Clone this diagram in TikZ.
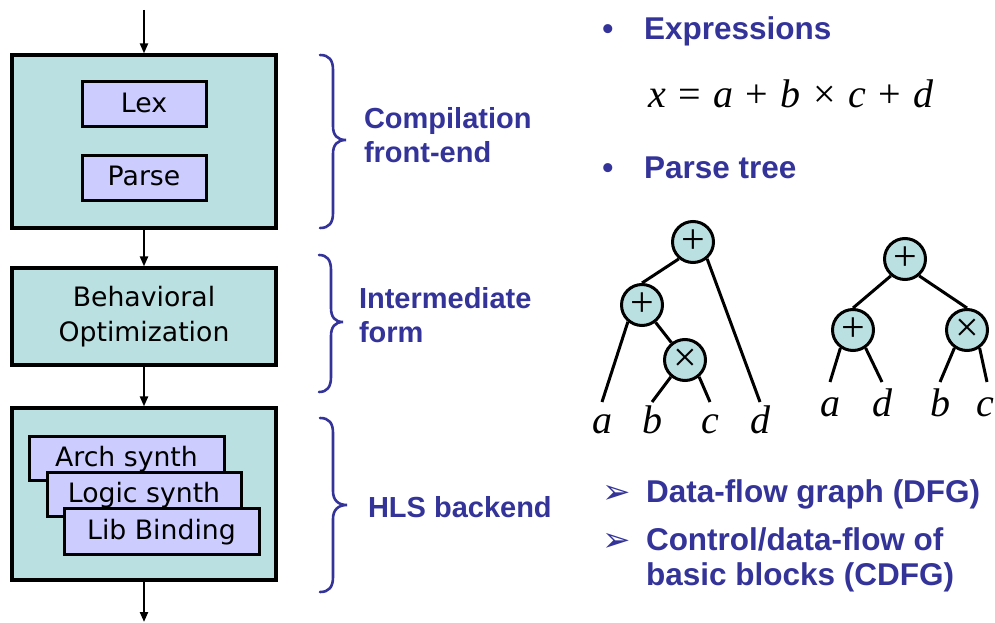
\documentclass[tikz,border=0pt]{standalone}
\usepackage{fontspec}
\setmainfont{DejaVu Sans}
\newfontfamily\headfont{Liberation Sans}
\newfontfamily\serffont{Liberation Serif}
\usetikzlibrary{arrows.meta}

\definecolor{stageteal}{RGB}{186,224,225}
\definecolor{tasklilac}{RGB}{204,204,255}
\definecolor{slideblue}{RGB}{51,51,153}

\tikzset{every picture/.style={line width=2pt}}
\tikzset{
  stage/.style={draw, line width=3.2pt, fill=stageteal, minimum width=264pt, inner sep=0pt,
    align=center, font=\fontsize{26.7}{35}\selectfont},
  task/.style={draw, line width=3pt, fill=tasklilac, inner sep=0pt, text height=19pt, text depth=3pt,
    font=\fontsize{26.7}{32}\selectfont},
  flow/.style={line width=2.2pt, -{Triangle[length=10pt,width=8pt]}},
  curly/.style={draw=slideblue, line width=2.6pt, line cap=round},
  tag/.style={text=slideblue, anchor=base west, inner sep=0pt, align=left,
    font=\headfont\bfseries\fontsize{29}{34}\selectfont},
  heading/.style={text=slideblue, anchor=base west, inner sep=0pt, align=left,
    font=\headfont\bfseries\fontsize{31.5}{35}\selectfont},
  pointer/.style={text=slideblue, anchor=base west, inner sep=0pt, font=\fontsize{34}{34}\selectfont},
  op/.style={circle, draw, line width=3pt, fill=stageteal, minimum size=41pt, inner sep=0pt,
    font=\serffont\fontsize{42}{42}\selectfont},
  leaf/.style={anchor=base, inner sep=0pt, font=\serffont\itshape\fontsize{40}{40}\selectfont},
  branch/.style={line width=3pt},
}

\begin{document}
\begin{tikzpicture}[x=1pt,y=1pt,yscale=-1,xscale=1]
	\useasboundingbox (0,0) rectangle (995,623);

	% compiler flow
	\node[stage, minimum height=173pt] (fe) at (144,141.5) {};
	\node[task, minimum width=124pt, minimum height=45pt] (lex) at (144,104.5) {Lex};
	\node[task, minimum width=124pt, minimum height=45pt] (parse) at (144,177.5) {Parse};
	\node[stage, minimum height=97pt] (bo) at (144,316.5) {Behavioral\\Optimization};
	\node[stage, minimum height=172pt] (be) at (144,494) {};
	\node[task, minimum width=195pt, minimum height=44pt] (arch) at (126.5,458) {Arch synth};
	\node[task, minimum width=194pt, minimum height=44pt] (logic) at (144,494) {Logic synth};
	\node[task, minimum width=195pt, minimum height=46pt] (lib) at (161.5,531) {Lib Binding};

	\coordinate (src) at (144,10);
	\coordinate (sink) at (144,622);
	\draw[flow] (src) -- (fe);
	\draw[flow] (fe) -- (bo);
	\draw[flow] (bo) -- (be);
	\draw[flow] (be) -- (sink);

	% braces
	\draw[curly] (320,55) .. controls (329,55) and (333,60) .. (333,70) -- (333,126) .. controls (333,135) and (337,140) .. (346,140) .. controls (337,140) and (333,145) .. (333,154) -- (333,213) .. controls (333,223) and (329,228) .. (320,228);
	\draw[curly] (319,255) .. controls (327,255) and (331,260) .. (331,270) -- (331,308) .. controls (331,317) and (335,322) .. (343,322) .. controls (335,322) and (331,327) .. (331,336) -- (331,377) .. controls (331,387) and (327,392) .. (319,392);
	\draw[curly] (320,418) .. controls (329,418) and (333,423) .. (333,433) -- (333,491) .. controls (333,500) and (338,505) .. (347,505) .. controls (338,505) and (333,510) .. (333,519) -- (333,577) .. controls (333,587) and (329,592) .. (320,592);

	\node[tag] (t1) at (363,162) {Compilation\\front-end};
	\node[tag] (t2) at (358,342) {Intermediate\\form};
	\node[tag] (t3) at (367,517) {HLS backend};

	% right column
	\node[heading, anchor=base] (b1) at (608,40) {•};
	\node[heading] (h1) at (643,40) {Expressions};
	\node[anchor=base west, inner sep=0pt, font={\serffont\fontsize{40}{40}\selectfont\spaceskip=12.5pt}] (eq) at (647,107) {\textit{x} = \textit{a} + \textit{b} × \textit{c} + \textit{d}};
	\node[heading, anchor=base] (b2) at (608,178) {•};
	\node[heading] (h2) at (643,178) {Parse tree};

	% parse tree
	\node[op] (r1) at (693,242) {+};
	\node[op] (p1) at (642,305) {+};
	\node[op] (m1) at (685,360) {×};
	\coordinate (ea1) at (602,402);
	\coordinate (eb1) at (652,402);
	\coordinate (ec1) at (710,402);
	\coordinate (ed1) at (760,402);
	\draw[branch] (r1.230) -- (p1.north);
	\draw[branch] (r1.-50) -- (ed1);
	\draw[branch] (p1.-130) -- (ea1);
	\draw[branch] (p1) -- (m1);
	\draw[branch] (m1.-130) -- (eb1);
	\draw[branch] (m1.-50) -- (ec1);
	\node[leaf] (la1) at (602,433) {a};
	\node[leaf] (lb1) at (652,433) {b};
	\node[leaf] (lc1) at (710,433) {c};
	\node[leaf] (ld1) at (760,433) {d};

	% balanced tree
	\node[op] (r2) at (905,259) {+};
	\node[op] (p2) at (853,330) {+};
	\node[op] (m2) at (967,330) {×};
	\coordinate (ea2) at (830,382);
	\coordinate (ed2) at (882,382);
	\coordinate (eb2) at (940,382);
	\coordinate (ec2) at (987,382);
	\draw[branch] (r2.-130) -- (p2.north);
	\draw[branch] (r2.-50) -- (m2.north);
	\draw[branch] (p2.-125) -- (ea2);
	\draw[branch] (p2.-55) -- (ed2);
	\draw[branch] (m2.-125) -- (eb2);
	\draw[branch] (m2.-55) -- (ec2);
	\node[leaf] (la2) at (830,416) {a};
	\node[leaf] (ld2) at (882,416) {d};
	\node[leaf] (lb2) at (940,416) {b};
	\node[leaf] (lc2) at (985,416) {c};

	% representations
	\node[pointer] (a1) at (601,503) {➢};
	\node[heading] (h3) at (645,502) {Data-flow graph (DFG)};
	\node[pointer] (a2) at (601,551) {➢};
	\node[heading] (h4) at (645,585) {Control/data-flow of\\basic blocks (CDFG)};

\end{tikzpicture}
\end{document}
